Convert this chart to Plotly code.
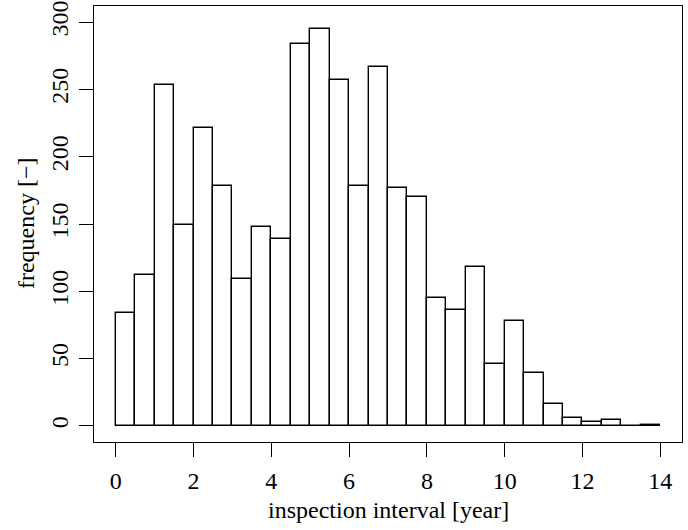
import plotly.graph_objects as go

bin_start = [0.0, 0.5, 1.0, 1.5, 2.0, 2.5, 3.0, 3.5, 4.0, 4.5, 5.0, 5.5, 6.0, 6.5,
             7.0, 7.5, 8.0, 8.5, 9.0, 9.5, 10.0, 10.5, 11.0, 11.5, 12.0, 12.5, 13.0, 13.5]
counts = [84, 112, 253, 149, 221, 178, 109, 148, 139, 284, 295, 257, 178, 267,
          177, 170, 95, 86, 118, 46, 78, 39, 16, 6, 3, 4, 0, 1]
bin_width = 0.5
x_ticks = [0, 2, 4, 6, 8, 10, 12, 14]
y_ticks = [0, 50, 100, 150, 200, 250, 300]
x_title = "inspection interval [year]"
y_title = "frequency [\u2212]"

centers = [s + bin_width / 2 for s in bin_start]

FONT = "Liberation Serif"
FS = 24

fig = go.Figure(
    go.Bar(
        x=centers,
        y=counts,
        width=bin_width,
        marker=dict(color="white", line=dict(color="black", width=1.4)),
        hoverinfo="x+y",
    )
)

fig.update_layout(
    width=688,
    height=530,
    margin=dict(l=94, r=6, t=6, b=88),
    paper_bgcolor="white",
    plot_bgcolor="white",
    font=dict(family=FONT, size=FS, color="black"),
    showlegend=False,
    bargap=0,
    annotations=[
        dict(text=x_title, xref="paper", yref="paper", x=0.5, y=-0.156,
             xanchor="center", yanchor="middle", showarrow=False,
             font=dict(family=FONT, size=FS, color="black")),
        dict(text=y_title, xref="paper", yref="paper", x=-0.1156, y=0.5,
             xanchor="center", yanchor="middle", showarrow=False, textangle=-90,
             font=dict(family=FONT, size=FS, color="black")),
    ],
)

fig.update_xaxes(
    range=[-0.56, 14.56],
    tickvals=x_ticks,
    ticks="outside",
    ticklen=14,
    tickwidth=1.3,
    tickcolor="black",
    showline=True,
    linecolor="black",
    linewidth=1.4,
    mirror=True,
    showgrid=False,
    zeroline=False,
    automargin=False,
    ticklabelstandoff=3,
    tickfont=dict(family=FONT, size=FS, color="black"),
)

fig.update_yaxes(
    range=[-12, 312],
    tickvals=y_ticks,
    tickangle=-90,
    ticks="outside",
    ticklen=14,
    tickwidth=1.3,
    tickcolor="black",
    showline=True,
    linecolor="black",
    linewidth=1.4,
    mirror=True,
    showgrid=False,
    zeroline=False,
    automargin=False,
    ticklabelstandoff=1,
    tickfont=dict(family=FONT, size=FS, color="black"),
)

fig.write_html(
    "out.html",
    config={"displayModeBar": False},
    post_script="document.body.style.margin='0';document.body.style.overflow='hidden';",
)
